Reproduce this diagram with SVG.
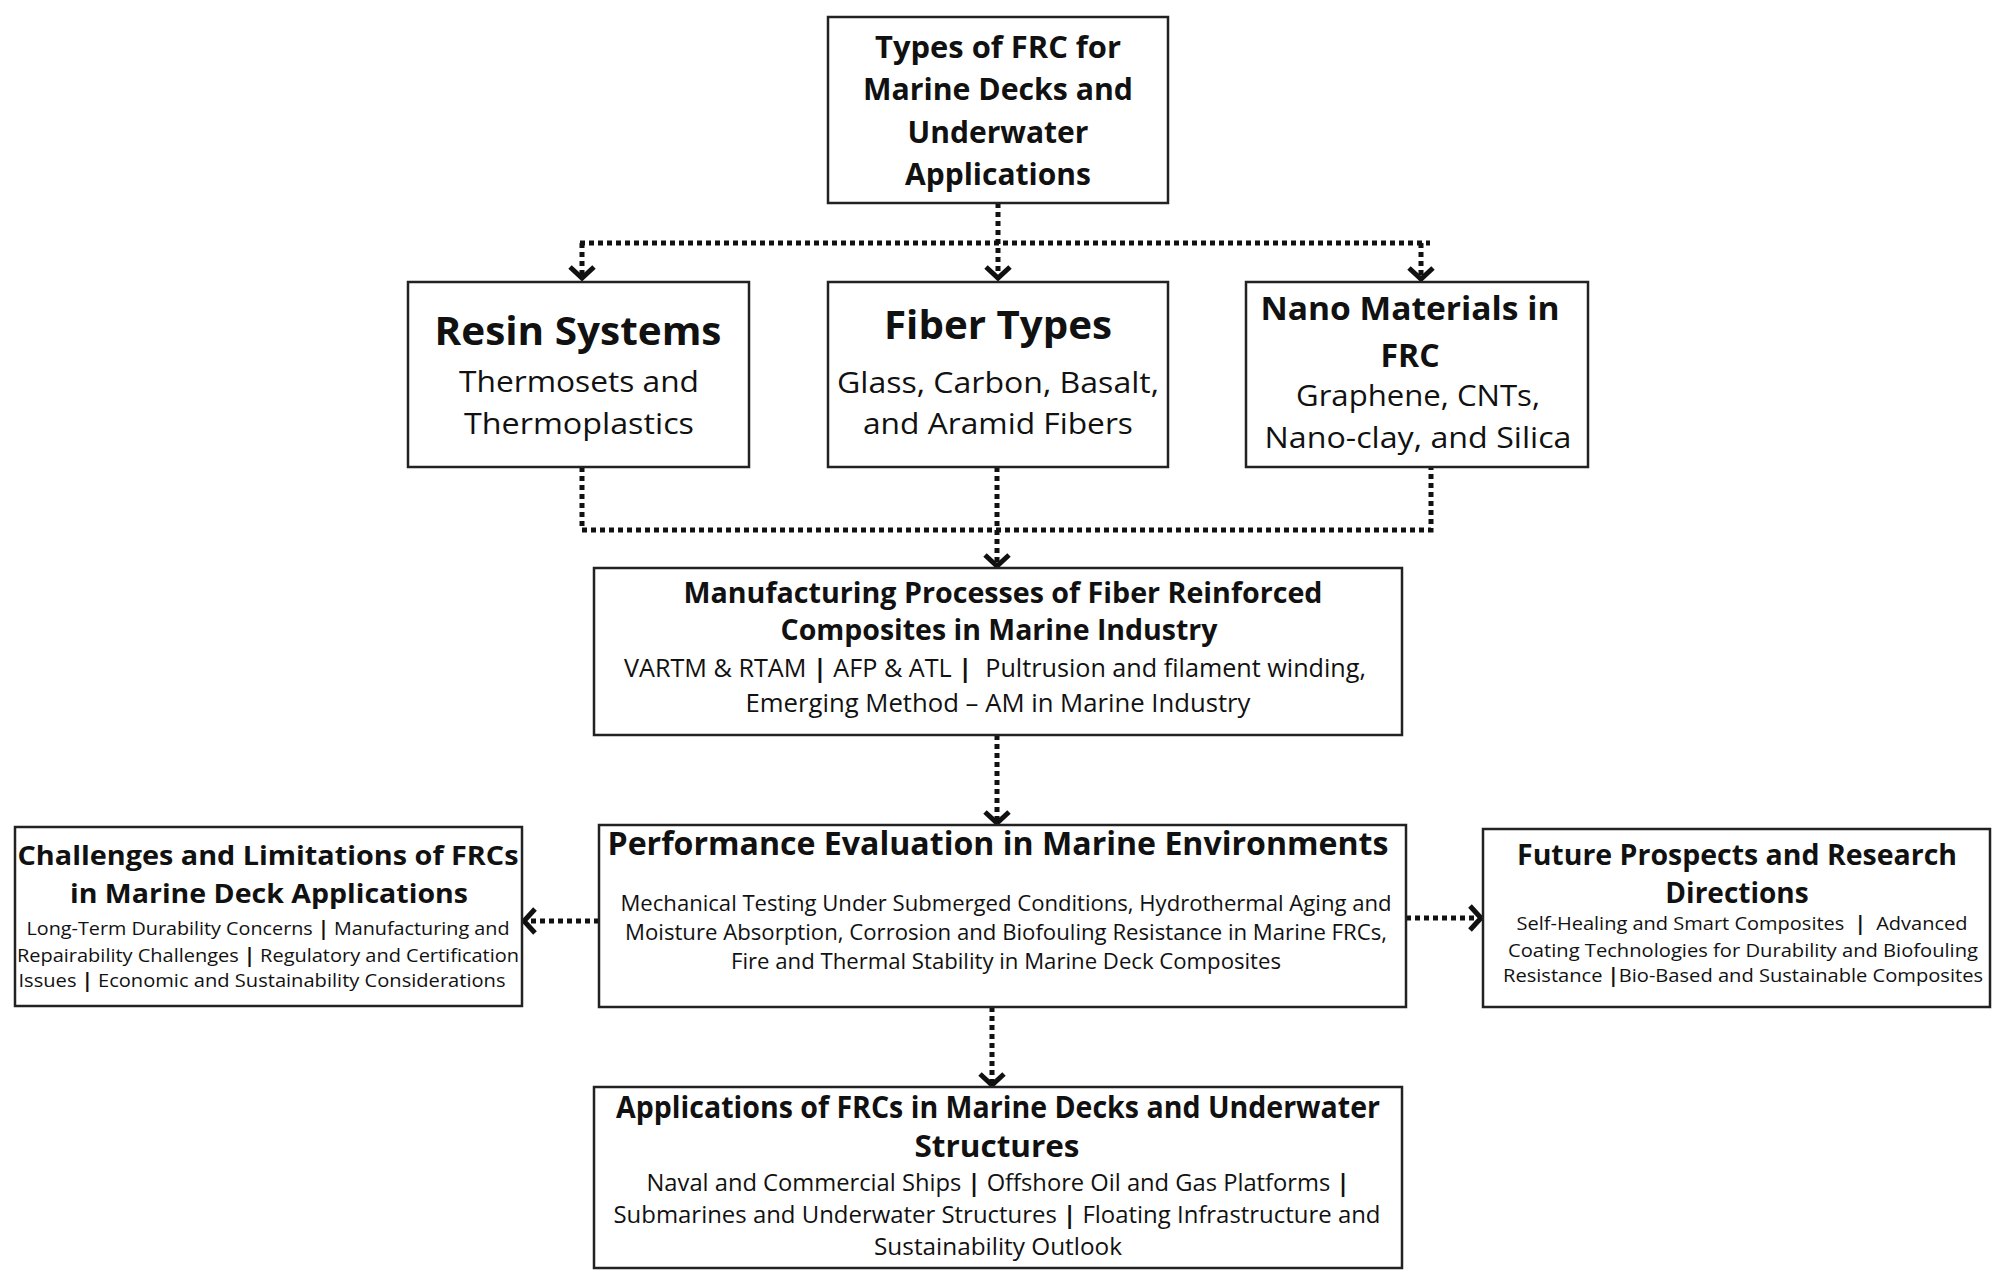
<svg xmlns="http://www.w3.org/2000/svg" width="2000" height="1284" viewBox="0 0 2000 1284">
<defs>
<style>
.box{fill:#fff;stroke:#222;stroke-width:2.5}
.t{font-family:"Open Sans","Liberation Sans",sans-serif;fill:#111;text-anchor:middle}
.b{font-weight:700}
.dot{fill:none;stroke:#111;stroke-width:5;stroke-dasharray:5 4}
</style>
<marker id="ah" markerUnits="userSpaceOnUse" viewBox="-18 -16 22 32" refX="0" refY="0" markerWidth="22" markerHeight="32" orient="auto" overflow="visible">
<path d="M-11,-12 L0,0 L-11,12" fill="none" stroke="#111" stroke-width="5"/>
</marker>
</defs>
<rect width="2000" height="1284" fill="#fff"/>

<g id="connectors">
<path class="dot" d="M998,203 V278" marker-end="url(#ah)"/>
<path class="dot" d="M580,243 H1430"/>
<path class="dot" d="M582,243 V278" marker-end="url(#ah)"/>
<path class="dot" d="M1421,243 V279" marker-end="url(#ah)"/>
<path class="dot" d="M582,467 V530 H1431 V467"/>
<path class="dot" d="M997,467 V566" marker-end="url(#ah)"/>
<path class="dot" d="M997,735 V823" marker-end="url(#ah)"/>
<path class="dot" d="M599,921 H524" marker-end="url(#ah)"/>
<path class="dot" d="M1406,918 H1481" marker-end="url(#ah)"/>
<path class="dot" d="M992,1007 V1085" marker-end="url(#ah)"/>
</g>

<g id="types">
<rect class="box" x="828" y="17" width="340" height="186"/>
<text class="t b" font-size="30" x="998" y="58" textLength="246" lengthAdjust="spacingAndGlyphs">Types of FRC for</text>
<text class="t b" font-size="30" x="998" y="100" textLength="270" lengthAdjust="spacingAndGlyphs">Marine Decks and</text>
<text class="t b" font-size="30" x="998" y="143">Underwater</text>
<text class="t b" font-size="30" x="998" y="185">Applications</text>
</g>

<g id="resin">
<rect class="box" x="408" y="282" width="341" height="185"/>
<text class="t b" font-size="40" x="578" y="345" textLength="287" lengthAdjust="spacingAndGlyphs">Resin Systems</text>
<text class="t" font-size="30" x="579" y="392" textLength="240" lengthAdjust="spacingAndGlyphs">Thermosets and</text>
<text class="t" font-size="30" x="579" y="434" textLength="230" lengthAdjust="spacingAndGlyphs">Thermoplastics</text>
</g>

<g id="fiber">
<rect class="box" x="828" y="282" width="340" height="185"/>
<text class="t b" font-size="40" x="998" y="339" textLength="228" lengthAdjust="spacingAndGlyphs">Fiber Types</text>
<text class="t" font-size="30" x="998" y="393" textLength="322" lengthAdjust="spacingAndGlyphs">Glass, Carbon, Basalt,</text>
<text class="t" font-size="30" x="998" y="434" textLength="270" lengthAdjust="spacingAndGlyphs">and Aramid Fibers</text>
</g>

<g id="nano">
<rect class="box" x="1246" y="282" width="342" height="185"/>
<text class="t b" font-size="32" x="1410" y="320" textLength="299" lengthAdjust="spacingAndGlyphs">Nano Materials in</text>
<text class="t b" font-size="32" x="1410" y="367">FRC</text>
<text class="t" font-size="30" x="1418" y="406" textLength="244" lengthAdjust="spacingAndGlyphs">Graphene, CNTs,</text>
<text class="t" font-size="30" x="1418" y="448" textLength="307" lengthAdjust="spacingAndGlyphs">Nano-clay, and Silica</text>
</g>

<g id="manufacturing">
<rect class="box" x="594" y="568" width="808" height="167"/>
<text class="t b" font-size="29" x="1003" y="603" textLength="639" lengthAdjust="spacingAndGlyphs">Manufacturing Processes of Fiber Reinforced</text>
<text class="t b" font-size="29" x="999" y="640" textLength="437" lengthAdjust="spacingAndGlyphs">Composites in Marine Industry</text>
<text class="t" font-size="25" x="995" y="677" textLength="742" lengthAdjust="spacingAndGlyphs">VARTM &amp; RTAM <tspan class="b">|</tspan> AFP &amp; ATL <tspan class="b">|</tspan> &#160;Pultrusion and filament winding,</text>
<text class="t" font-size="25" x="998" y="712" textLength="505" lengthAdjust="spacingAndGlyphs">Emerging Method – AM in Marine Industry</text>
</g>

<g id="performance">
<rect class="box" x="599" y="825" width="807" height="182"/>
<text class="t b" font-size="32" x="998" y="855" textLength="781" lengthAdjust="spacingAndGlyphs">Performance Evaluation in Marine Environments</text>
<text class="t" font-size="21" x="1006" y="911" textLength="771" lengthAdjust="spacingAndGlyphs">Mechanical Testing Under Submerged Conditions, Hydrothermal Aging and</text>
<text class="t" font-size="21" x="1006" y="940" textLength="762" lengthAdjust="spacingAndGlyphs">Moisture Absorption, Corrosion and Biofouling Resistance in Marine FRCs,</text>
<text class="t" font-size="21" x="1006" y="969" textLength="550" lengthAdjust="spacingAndGlyphs">Fire and Thermal Stability in Marine Deck Composites</text>
</g>

<g id="challenges">
<rect class="box" x="15" y="827" width="507" height="179"/>
<text class="t b" font-size="27" x="268" y="865" textLength="501" lengthAdjust="spacingAndGlyphs">Challenges and Limitations of FRCs</text>
<text class="t b" font-size="27" x="269" y="903" textLength="398" lengthAdjust="spacingAndGlyphs">in Marine Deck Applications</text>
<text class="t" font-size="19" x="268" y="935" textLength="483" lengthAdjust="spacingAndGlyphs">Long-Term Durability Concerns <tspan class="b">|</tspan> Manufacturing and</text>
<text class="t" font-size="19" x="268" y="962" textLength="502" lengthAdjust="spacingAndGlyphs">Repairability Challenges <tspan class="b">|</tspan> Regulatory and Certification</text>
<text class="t" font-size="19" x="262" y="987" textLength="487" lengthAdjust="spacingAndGlyphs">Issues <tspan class="b">|</tspan> Economic and Sustainability Considerations</text>
</g>

<g id="future">
<rect class="box" x="1483" y="829" width="507" height="178"/>
<text class="t b" font-size="28" x="1737" y="865" textLength="440" lengthAdjust="spacingAndGlyphs">Future Prospects and Research</text>
<text class="t b" font-size="28" x="1737" y="903">Directions</text>
<text class="t" font-size="19" x="1742" y="930" textLength="451" lengthAdjust="spacingAndGlyphs">Self-Healing and Smart Composites &#160;<tspan class="b">|</tspan>&#160; Advanced</text>
<text class="t" font-size="19" x="1743" y="957" textLength="470" lengthAdjust="spacingAndGlyphs">Coating Technologies for Durability and Biofouling</text>
<text class="t" font-size="19" x="1743" y="982" textLength="480" lengthAdjust="spacingAndGlyphs">Resistance <tspan class="b">|</tspan>Bio-Based and Sustainable Composites</text>
</g>

<g id="applications">
<rect class="box" x="594" y="1087" width="808" height="181"/>
<text class="t b" font-size="30" x="998" y="1118" textLength="764" lengthAdjust="spacingAndGlyphs">Applications of FRCs in Marine Decks and Underwater</text>
<text class="t b" font-size="30" x="997" y="1157" textLength="165" lengthAdjust="spacingAndGlyphs">Structures</text>
<text class="t" font-size="23" x="998" y="1191" textLength="703" lengthAdjust="spacingAndGlyphs">Naval and Commercial Ships <tspan class="b">|</tspan> Offshore Oil and Gas Platforms <tspan class="b">|</tspan></text>
<text class="t" font-size="23" x="997" y="1223" textLength="767" lengthAdjust="spacingAndGlyphs">Submarines and Underwater Structures <tspan class="b">|</tspan> Floating Infrastructure and</text>
<text class="t" font-size="23" x="998" y="1255" textLength="248" lengthAdjust="spacingAndGlyphs">Sustainability Outlook</text>
</g>
</svg>
